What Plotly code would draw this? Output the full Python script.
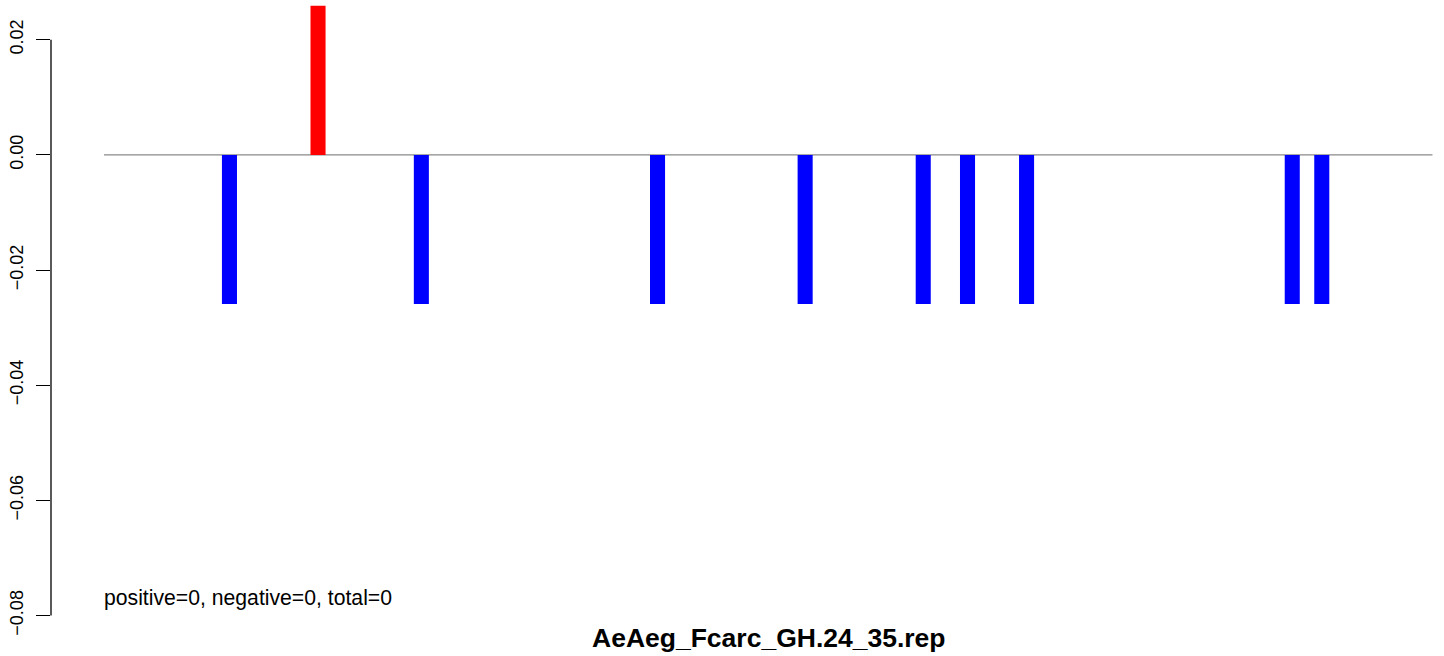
import plotly.graph_objects as go

# Data
positions = [1, 7, 14, 30, 40, 48, 51, 55, 73, 75]
values = [-0.0259, 0.0259, -0.0259, -0.0259, -0.0259, -0.0259, -0.0259, -0.0259, -0.0259, -0.0259]
colors = ["#0000FF" if v < 0 else "#FF0000" for v in values]
y_ticks = [0.02, 0.00, -0.02, -0.04, -0.06, -0.08]
y_tick_labels = ["0.02", "0.00", "\u22120.02", "\u22120.04", "\u22120.06", "\u22120.08"]
x_start, x_end = -7.5, 82.5
title_text = "AeAeg_Fcarc_GH.24_35.rep"
count_text = "positive=0, negative=0, total=0"

FONT = "Liberation Sans, Arial, Helvetica, sans-serif"

fig = go.Figure()
fig.add_trace(go.Bar(
    x=positions, y=values, width=1.02,
    marker=dict(color=colors, line=dict(width=0)),
    hoverinfo="x+y",
))

# zero reference line
fig.add_shape(type="line", xref="x", yref="y", x0=x_start, x1=x_end, y0=0, y1=0,
              line=dict(color="#8a8a8a", width=1.3), layer="below")
# R-style y axis line spanning tick range
fig.add_shape(type="line", xref="paper", yref="y", x0=0, x1=0,
              y0=min(y_ticks), y1=max(y_ticks), line=dict(color="black", width=1.3))

fig.add_annotation(x=x_start, y=-0.0770, xref="x", yref="y", text=count_text,
                   showarrow=False, xanchor="left", yanchor="middle", xshift=-2,
                   font=dict(family=FONT, size=21.2, color="black"))
fig.add_annotation(x=0.5154, y=0.003, xref="paper", yref="paper", text="<b>" + title_text + "</b>",
                   showarrow=False, xanchor="center", yanchor="middle",
                   font=dict(family=FONT, size=26.5, color="black"))

fig.update_layout(
    width=1444, height=656,
    margin=dict(l=51, r=0, t=0, b=16),
    paper_bgcolor="white", plot_bgcolor="white",
    showlegend=False,
    font=dict(family=FONT, color="black"),
    xaxis=dict(range=[-11.09, 83.28], showgrid=False, zeroline=False, showline=False,
               showticklabels=False, ticks=""),
    yaxis=dict(range=[-0.08424, 0.02691], showgrid=False, zeroline=False, showline=False,
               tickmode="array", tickvals=y_ticks, ticktext=y_tick_labels,
               ticks="outside", ticklen=14, tickwidth=1.3, tickcolor="black",
               ticklabelstandoff=6,
               tickangle=-90, tickfont=dict(family=FONT, size=18, color="black")),
)

fig.write_html("out.html", config={"displayModeBar": False},
               post_script="document.body.style.margin='0';document.body.style.overflow='hidden';")
